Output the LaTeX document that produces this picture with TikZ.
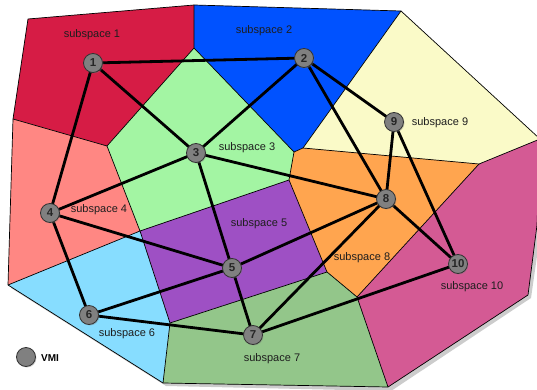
\documentclass[tikz,border=0pt]{standalone}
\usepackage{fontspec}
\setmainfont{Liberation Sans}
\usetikzlibrary{shadows}
\definecolor{cRed}{RGB}{214,28,69}
\definecolor{cBlue}{RGB}{0,82,255}
\definecolor{cYellow}{RGB}{250,250,200}
\definecolor{cGreenA}{RGB}{163,245,163}
\definecolor{cPink}{RGB}{255,135,131}
\definecolor{cLBlue}{RGB}{135,221,255}
\definecolor{cPurple}{RGB}{158,80,196}
\definecolor{cOrange}{RGB}{255,165,79}
\definecolor{cGreenB}{RGB}{147,198,138}
\definecolor{cMagenta}{RGB}{212,90,148}
\definecolor{cNode}{RGB}{128,128,128}
\definecolor{cText}{RGB}{30,30,30}
\tikzset{
  region/.style={draw=black, line width=0.7pt, line join=round},
  vmi/.style={circle, draw=black!80, line width=0.8pt, fill=cNode, minimum size=19pt, inner sep=0pt,
    font=\fontsize{11.5}{11.5}\selectfont\bfseries, text=black!85,
    drop shadow={opacity=0.35, shadow xshift=1pt, shadow yshift=-1pt}},
  link/.style={line width=2.8pt, black},
  lab/.style={font=\fontsize{11}{13}\selectfont, text=cText, inner sep=0pt}
}
\begin{document}
\begin{tikzpicture}[x=1pt,y=-1pt]
\useasboundingbox (0,0) rectangle (537,390);
\begin{scope}
\clip (0,0) rectangle (537,390);
% outer shadow
\fill[black, opacity=0.2] (30,22) -- (197,8) -- (404,14) -- (541,142) -- (541,228) -- (531,298) -- (391,391) -- (166,386) -- (11,288) -- (16,122) -- cycle;
% regions
\fill[cRed] (28,19) -- (194,5) -- (194,48) -- (107,146) -- (13,119) -- cycle;
\fill[cBlue] (194,5) -- (401,11) -- (303,148) -- (294,152) -- (194,48) -- cycle;
\fill[cYellow] (401,11) -- (540,139) -- (479,164) -- (303,148) -- cycle;
\fill[cPink] (13,119) -- (107,146) -- (140,231) -- (8,285) -- cycle;
\fill[cGreenA] (194,48) -- (294,152) -- (289,180) -- (140,231) -- (107,146) -- cycle;
\fill[cLBlue] (8,285) -- (140,231) -- (170,323) -- (163,383) -- cycle;
\fill[cPurple] (140,231) -- (289,180) -- (327,272) -- (170,323) -- cycle;
\fill[cOrange] (294,152) -- (303,148) -- (479,164) -- (357,297) -- (327,272) -- (289,180) -- cycle;
\fill[cGreenB] (170,323) -- (327,272) -- (357,297) -- (388,387) -- (163,383) -- cycle;
\fill[cMagenta] (479,164) -- (540,139) -- (537,225) -- (528,295) -- (388,387) -- (357,297) -- cycle;
% borders
\draw[region] (28,19) -- (194,5) -- (401,11) -- (540,139) -- (537,225) -- (528,295) -- (388,387) -- (163,383) -- (8,285) -- (13,119) -- cycle;
\draw[region] (194,5) -- (194,48) -- (107,146) -- (13,119);
\draw[region] (194,48) -- (294,152) -- (303,148) -- (401,11);
\draw[region] (303,148) -- (479,164) -- (540,139);
\draw[region] (107,146) -- (140,231) -- (8,285);
\draw[region] (140,231) -- (289,180) -- (294,152);
\draw[region] (289,180) -- (327,272) -- (357,297) -- (479,164);
\draw[region] (140,231) -- (170,323) -- (163,383);
\draw[region] (170,323) -- (327,272);
\draw[region] (357,297) -- (388,387);
\end{scope}
% labels
\node[lab] (l1) at (92,35) {subspace 1};
\node[lab] (l2) at (264,31) {subspace 2};
\node[lab] (l3) at (247,148) {subspace 3};
\node[lab] (l4) at (99,210) {subspace 4};
\node[lab] (l5) at (259,224) {subspace 5};
\node[lab] (l6) at (127,334) {subspace 6};
\node[lab] (l7) at (272,359) {subspace 7};
\node[lab] (l8) at (362,258) {subspace 8};
\node[lab] (l9) at (440,123) {subspace 9};
\node[lab] (l10) at (472,287) {subspace 10};
% node coordinates
\coordinate (p1) at (93,63);
\coordinate (p2) at (304,58);
\coordinate (p3) at (196,153);
\coordinate (p4) at (50,213);
\coordinate (p5) at (232,268);
\coordinate (p6) at (89,315);
\coordinate (p7) at (253,335);
\coordinate (p8) at (386,199);
\coordinate (p9) at (394,122);
\coordinate (p10) at (458,264);
% links
\foreach \a/\b in {1/2,1/3,1/4,2/3,2/8,2/9,3/4,3/5,3/8,4/5,4/6,5/6,5/7,5/8,6/7,7/8,7/10,8/9,8/10,9/10}
  \draw[link] (p\a) -- (p\b);
% nodes
\foreach \i in {1,...,10}
  \node[vmi] (n\i) at (p\i) {\i};
% legend
\node[vmi] (legend) at (26,357) {};
\node[font=\fontsize{10}{10}\selectfont\bfseries, anchor=west, inner sep=0pt] (legtxt) at (41,358) {VMI};
\end{tikzpicture}
\end{document}
